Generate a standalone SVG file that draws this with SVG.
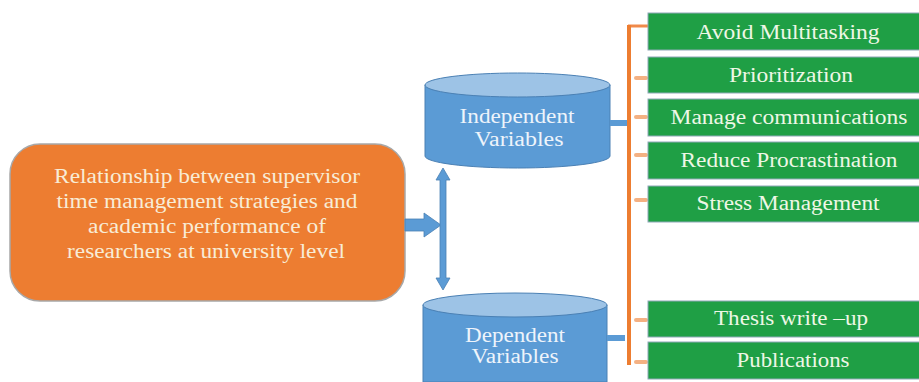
<svg xmlns="http://www.w3.org/2000/svg" width="919" height="382" viewBox="0 0 919 382">
<style>
.t{font-family:"Liberation Serif",serif;font-size:20px;text-anchor:middle}
.g rect{fill:#1f9f45;stroke:#8fa8b8;stroke-width:1}
.g text{fill:#eef7e6}
.cyl{fill:#5b9bd5;stroke:#4a80b4;stroke-width:1}
.cyltop{fill:#9dc3e6;stroke:#4a80b4;stroke-width:1}
.ct{fill:#eef4fb}
.tick{stroke:#f4b183;stroke-width:4;stroke-linecap:round}
</style>
<rect width="919" height="382" fill="#ffffff"/>
<g id="main">
<rect x="10" y="144" width="395" height="157" rx="30" fill="#ed7d31" stroke="#a8a8a8" stroke-width="1.5"/>
<text class="t" x="207" y="183" fill="#f8ecd6" textLength="306" lengthAdjust="spacingAndGlyphs">Relationship between supervisor</text>
<text class="t" x="207" y="208" fill="#f8ecd6" textLength="301" lengthAdjust="spacingAndGlyphs">time management strategies and</text>
<text class="t" x="207" y="233" fill="#f8ecd6" textLength="238" lengthAdjust="spacingAndGlyphs">academic performance of</text>
<text class="t" x="206" y="258" fill="#f8ecd6" textLength="278" lengthAdjust="spacingAndGlyphs">researchers at university level</text>
</g>
<g id="independent">
<path class="cyl" d="M425,85 L425,156 A92.5,12 0 0 0 610,156 L610,85 Z"/>
<ellipse class="cyltop" cx="517.5" cy="85" rx="92.5" ry="12"/>
<text class="t ct" x="517" y="123" textLength="115" lengthAdjust="spacingAndGlyphs">Independent</text>
<text class="t ct" x="519" y="146" textLength="89" lengthAdjust="spacingAndGlyphs">Variables</text>
</g>
<g id="dependent">
<path class="cyl" d="M423,305 L423,382 L607,382 L607,305 Z"/>
<ellipse class="cyltop" cx="515" cy="305" rx="92" ry="12"/>
<text class="t ct" x="515" y="342" textLength="100" lengthAdjust="spacingAndGlyphs">Dependent</text>
<text class="t ct" x="515" y="363" textLength="87" lengthAdjust="spacingAndGlyphs">Variables</text>
</g>
<g id="connectors">
<polygon points="405,219 424,219 424,213 441,225 424,237 424,231 405,231" fill="#5b9bd5" stroke="#4a80b4" stroke-width="0.8"/>
<polygon points="443,168 450,180 446,180 446,278 450,278 443,290 436,278 440,278 440,180 436,180" fill="#5b9bd5" stroke="#4a80b4" stroke-width="0.8"/>
<rect x="610" y="120" width="18" height="6" fill="#5b9bd5"/>
<rect x="607" y="335" width="18" height="6" fill="#5b9bd5"/>
<line x1="628" y1="26" x2="648" y2="26" stroke="#f08a4b" stroke-width="3"/>
<line x1="629" y1="25" x2="629" y2="365" stroke="#ed7d31" stroke-width="4"/>
<line class="tick" x1="636" y1="78" x2="646" y2="78"/>
<line class="tick" x1="636" y1="117" x2="646" y2="117"/>
<line class="tick" x1="636" y1="155" x2="646" y2="155"/>
<line class="tick" x1="636" y1="200" x2="646" y2="200"/>
<line class="tick" x1="636" y1="320" x2="646" y2="320"/>
<line class="tick" x1="636" y1="362" x2="646" y2="362"/>
</g>
<g id="n1" class="g"><rect x="648" y="13" width="272" height="37"/><text class="t" x="788" y="39" textLength="183" lengthAdjust="spacingAndGlyphs">Avoid Multitasking</text></g>
<g id="n2" class="g"><rect x="648" y="57" width="272" height="36"/><text class="t" x="791" y="82" textLength="124" lengthAdjust="spacingAndGlyphs">Prioritization</text></g>
<g id="n3" class="g"><rect x="648" y="99" width="272" height="37"/><text class="t" x="789" y="124" textLength="237" lengthAdjust="spacingAndGlyphs">Manage communications</text></g>
<g id="n4" class="g"><rect x="648" y="142" width="272" height="37"/><text class="t" x="789" y="167" textLength="217" lengthAdjust="spacingAndGlyphs">Reduce Procrastination</text></g>
<g id="n5" class="g"><rect x="648" y="186" width="272" height="36"/><text class="t" x="788" y="210" textLength="183" lengthAdjust="spacingAndGlyphs">Stress Management</text></g>
<g id="n6" class="g"><rect x="648" y="301" width="272" height="36"/><text class="t" x="791" y="325" textLength="154" lengthAdjust="spacingAndGlyphs">Thesis write –up</text></g>
<g id="n7" class="g"><rect x="648" y="342" width="272" height="37"/><text class="t" x="793" y="367" textLength="113" lengthAdjust="spacingAndGlyphs">Publications</text></g>
</svg>
